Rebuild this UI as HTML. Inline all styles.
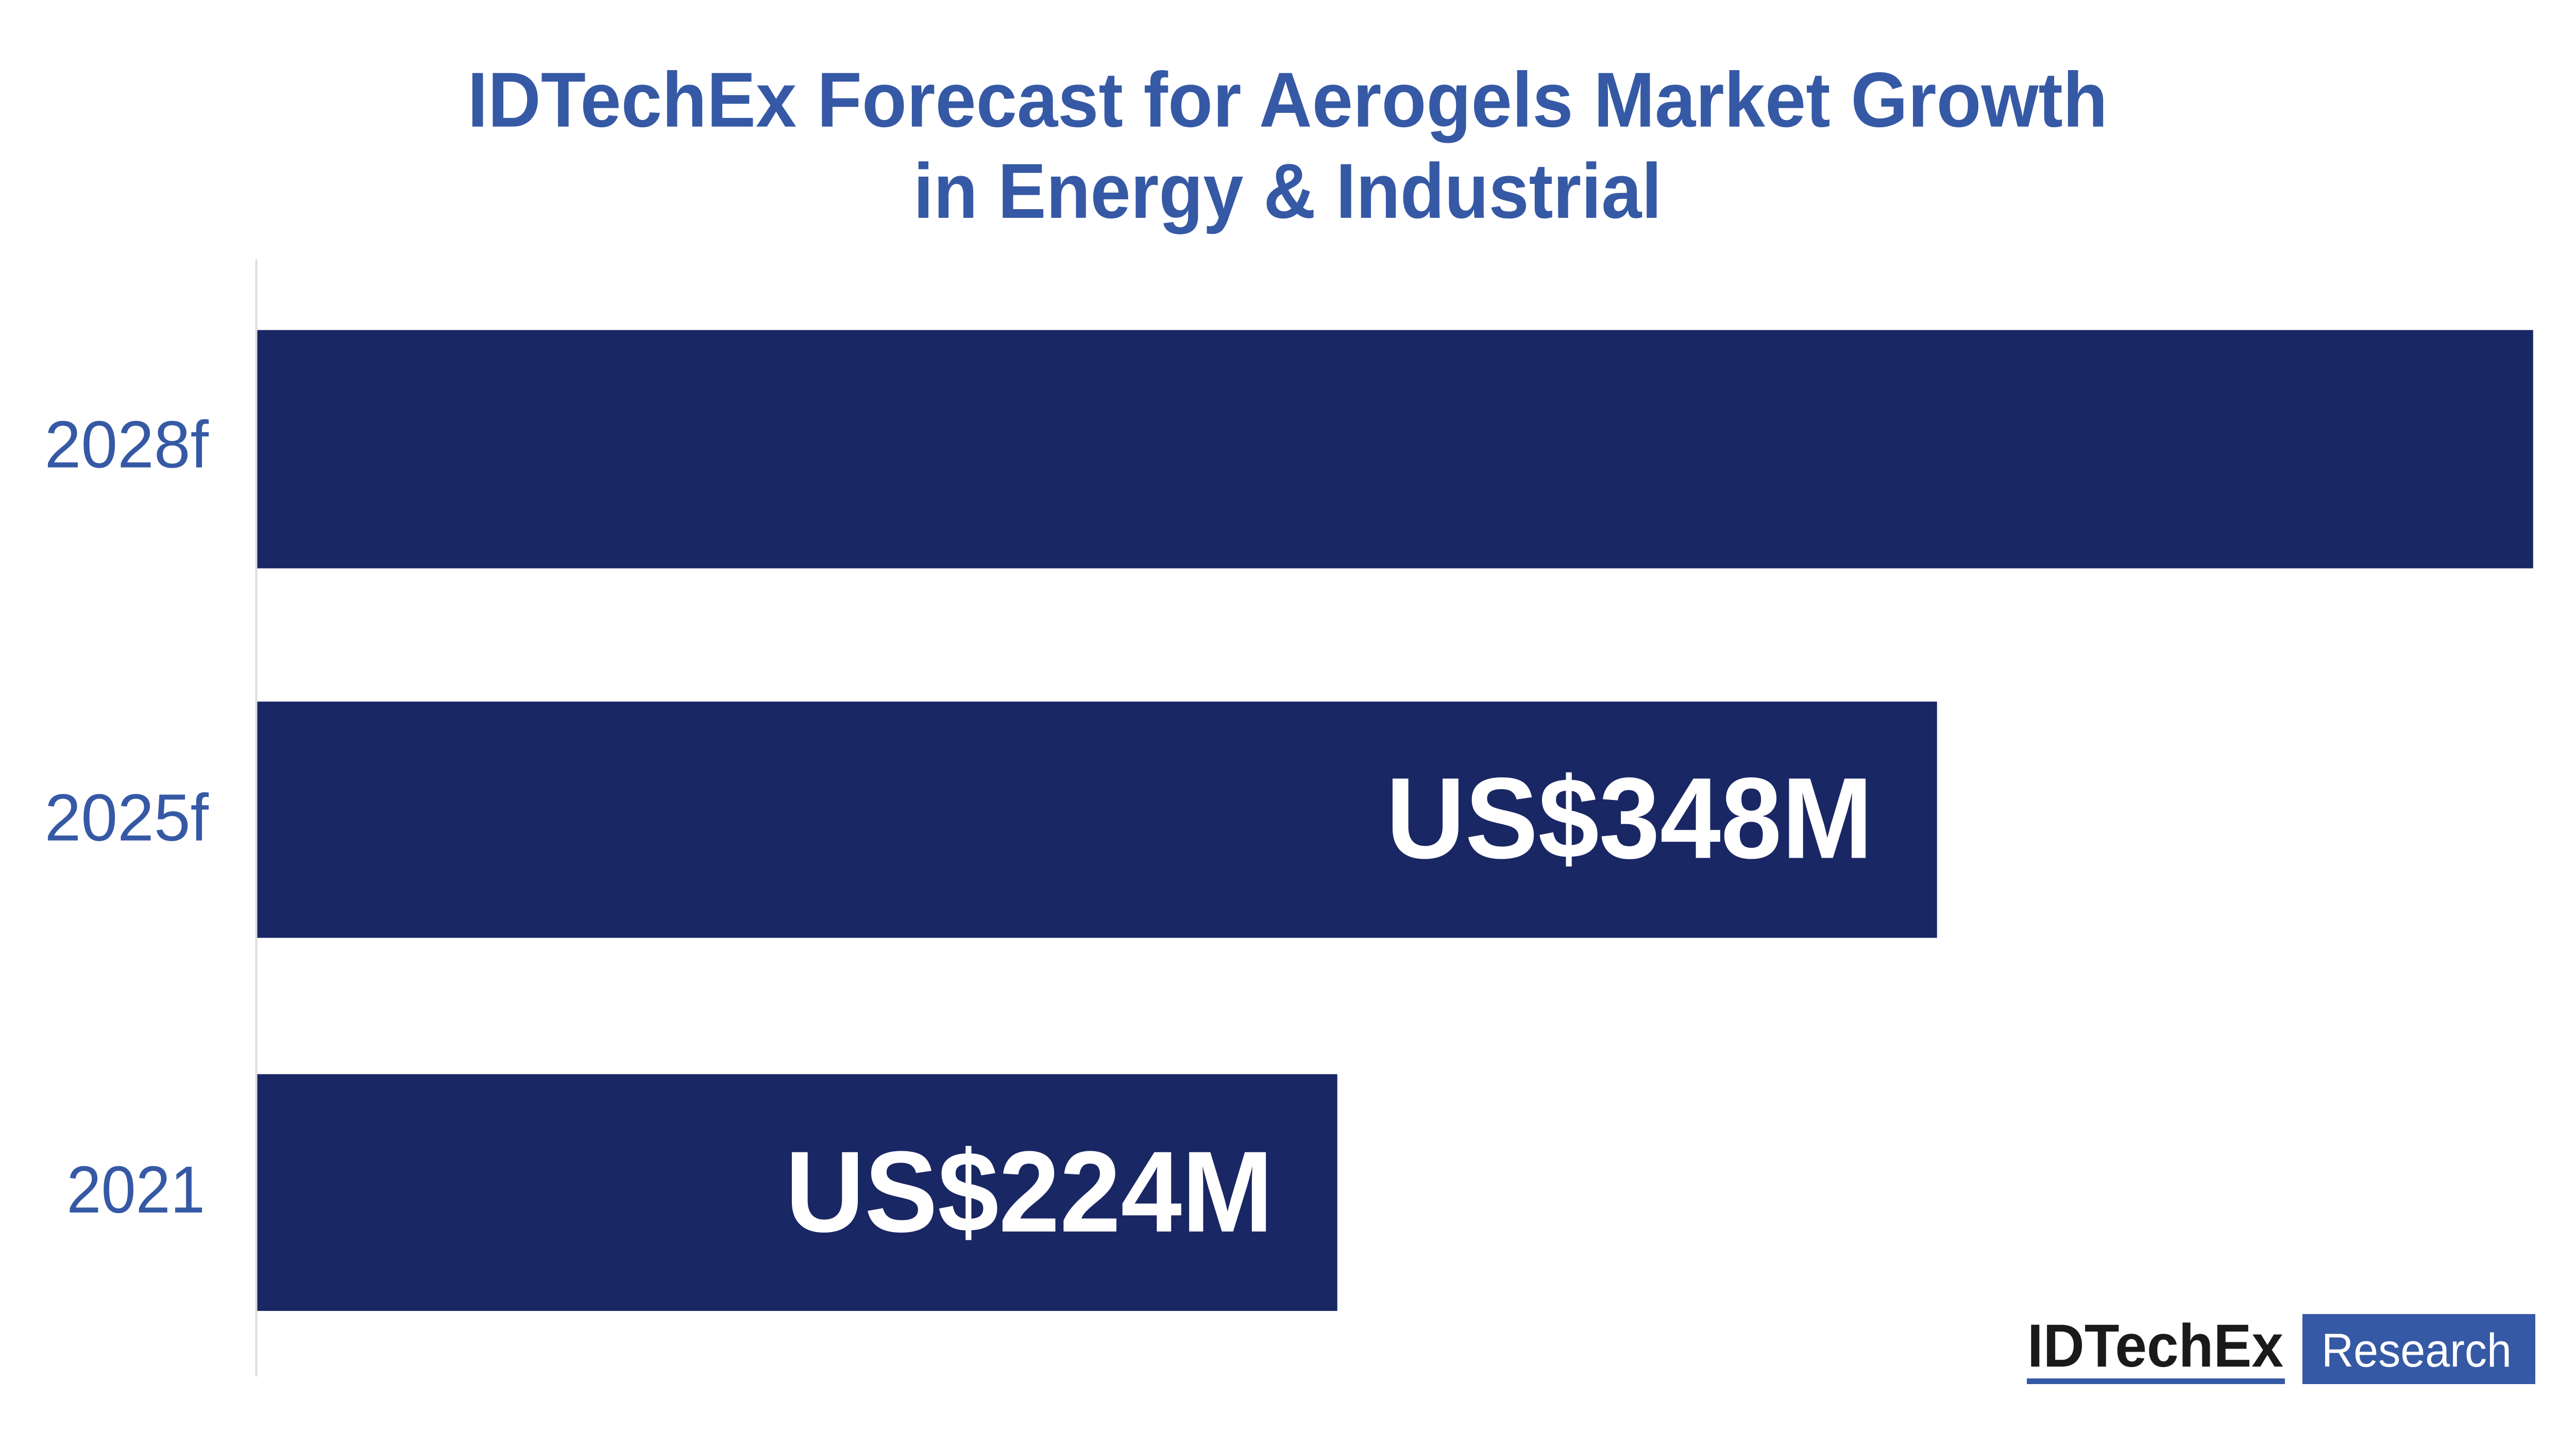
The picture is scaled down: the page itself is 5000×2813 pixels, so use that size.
<!DOCTYPE html>
<html><head><meta charset="utf-8"><style>html,body{margin:0;padding:0;background:#fff}svg{display:block}</style></head>
<body>
<svg width="5000" height="2813" viewBox="0 0 5000 2813" xmlns="http://www.w3.org/2000/svg" font-family="Liberation Sans, Arial, sans-serif">
<rect width="5000" height="2813" fill="#fff"/>
<g transform="scale(0.9949)">
<text x="2512" y="247" text-anchor="middle" font-size="152" font-weight="bold" fill="#3659a5" textLength="3200" lengthAdjust="spacingAndGlyphs">IDTechEx Forecast for Aerogels Market Growth</text>
<text x="2512" y="425" text-anchor="middle" font-size="152" font-weight="bold" fill="#3659a5" textLength="1460" lengthAdjust="spacingAndGlyphs">in Energy &amp; Industrial</text>
<line x1="500" y1="506" x2="500" y2="2686" stroke="#dddddd" stroke-width="4"/>
<rect x="502" y="644" width="4440" height="465" fill="#1a2765"/>
<rect x="502" y="1369" width="3277" height="461" fill="#1a2765"/>
<rect x="502" y="2096" width="2107" height="462" fill="#1a2765"/>
<g font-size="130" fill="#3659a5" text-anchor="end">
<text x="407" y="912" textLength="320" lengthAdjust="spacingAndGlyphs">2028f</text>
<text x="407" y="1640" textLength="320" lengthAdjust="spacingAndGlyphs">2025f</text>
<text x="400" y="2366" textLength="270" lengthAdjust="spacingAndGlyphs">2021</text>
</g>
<g font-size="225" font-weight="bold" fill="#fff" text-anchor="end">
<text x="3654" y="1674" textLength="950" lengthAdjust="spacingAndGlyphs">US$348M</text>
<text x="2484" y="2403" textLength="952" lengthAdjust="spacingAndGlyphs">US$224M</text>
</g>
</g>
<text x="3935" y="2653" font-size="118" font-weight="bold" fill="#1a1a1a" textLength="497" lengthAdjust="spacingAndGlyphs">IDTechEx</text>
<rect x="3934" y="2676" width="501" height="11" fill="#3659a5"/>
<rect x="4469" y="2551" width="452" height="136" fill="#3659a5"/>
<text x="4506" y="2653" font-size="92" fill="#fff" textLength="369" lengthAdjust="spacingAndGlyphs">Research</text>
</svg>
</body></html>
